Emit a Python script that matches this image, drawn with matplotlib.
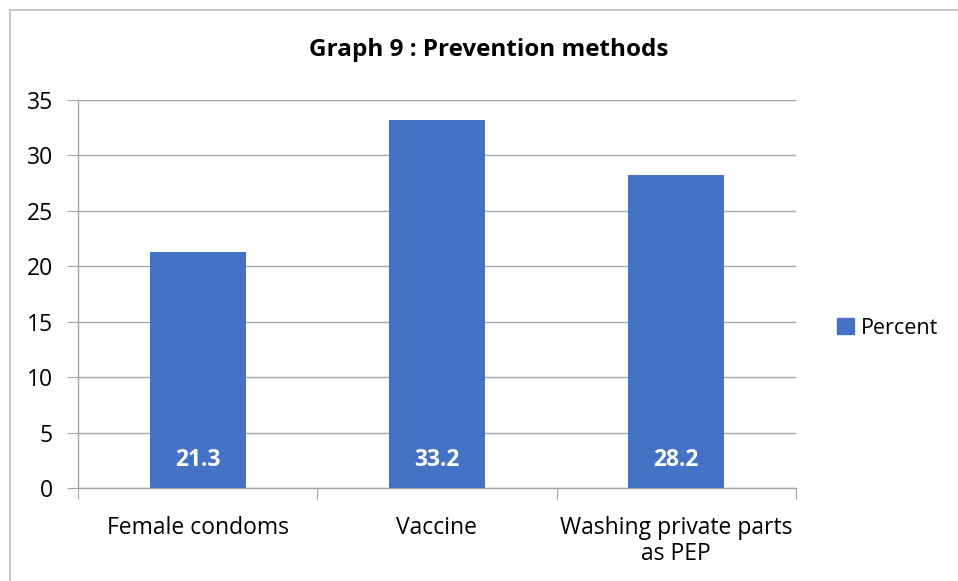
import matplotlib.pyplot as plt
from matplotlib.patches import Rectangle
from matplotlib.lines import Line2D

categories = ["Female condoms", "Vaccine", "Washing private parts\nas PEP"]
percent = [21.3, 33.2, 28.2]
y_ticks = [0, 5, 10, 15, 20, 25, 30, 35]

BAR_CLR = "#4472C4"
GRID_CLR = "#A6A6A6"
TEXT_CLR = "#000000"

plt.rcParams["font.family"] = ["Open Sans", "DejaVu Sans"]

fig = plt.figure(figsize=(9.58, 5.81), dpi=100)
ax = fig.add_axes([78 / 958, 1 - 488 / 581, (796 - 78) / 958, (488 - 100) / 581])

x = range(len(categories))
bars = ax.bar(x, percent, width=0.4, color=BAR_CLR, zorder=3, label="Percent")

ax.set_xlim(-0.5, len(categories) - 0.5)
ax.set_ylim(0, 35)
ax.set_yticks(y_ticks)
ax.tick_params(axis="y", labelsize=16.5, length=8, color=GRID_CLR, pad=10, labelcolor=TEXT_CLR)
ax.yaxis.grid(True, color=GRID_CLR, lw=1, zorder=0)

# category labels centred, ticks on the category boundaries
ax.set_xticks([i - 0.5 for i in range(len(categories) + 1)])
ax.set_xticklabels([])
ax.set_xticks(list(x), minor=True)
ax.set_xticklabels(categories, minor=True, fontsize=16.5, color=TEXT_CLR, linespacing=1.15)
ax.tick_params(axis="x", which="major", length=8, color=GRID_CLR)
ax.tick_params(axis="x", which="minor", length=0, pad=20)

for side in ["top", "right"]:
    ax.spines[side].set_visible(False)
for side in ["left", "bottom"]:
    ax.spines[side].set_color(GRID_CLR)
    ax.spines[side].set_linewidth(1)

# value labels sit inside the bar base
for rect, v in zip(bars, percent):
    ax.annotate(f"{v}", (rect.get_x() + rect.get_width() / 2, 0),
                xytext=(0, 20), textcoords="offset points",
                ha="center", va="center", fontsize=16.5, fontweight="bold",
                color="white", zorder=4)

fig.text(489 / 958, 1 - 50 / 581, "Graph 9 : Prevention methods",
         ha="center", va="center", fontsize=17.5, fontweight="bold", color=TEXT_CLR)

fig.legend(handles=[Rectangle((0, 0), 1, 1, color=BAR_CLR)], labels=["Percent"],
           loc="center left", bbox_to_anchor=(818 / 958, 1 - 328 / 581),
           frameon=False, fontsize=15.5, handlelength=0.75, handleheight=0.75,
           handletextpad=0.35)

# outer chart-area border (left and top edges are in frame)
fig.add_artist(Line2D([10 / 958, 10 / 958], [0, 1 - 10 / 581],
                      transform=fig.transFigure, color="#BFBFBF", lw=1.2))
fig.add_artist(Line2D([10 / 958, 1], [1 - 10 / 581, 1 - 10 / 581],
                      transform=fig.transFigure, color="#BFBFBF", lw=1.2))

fig.savefig("out.png", dpi=100)
